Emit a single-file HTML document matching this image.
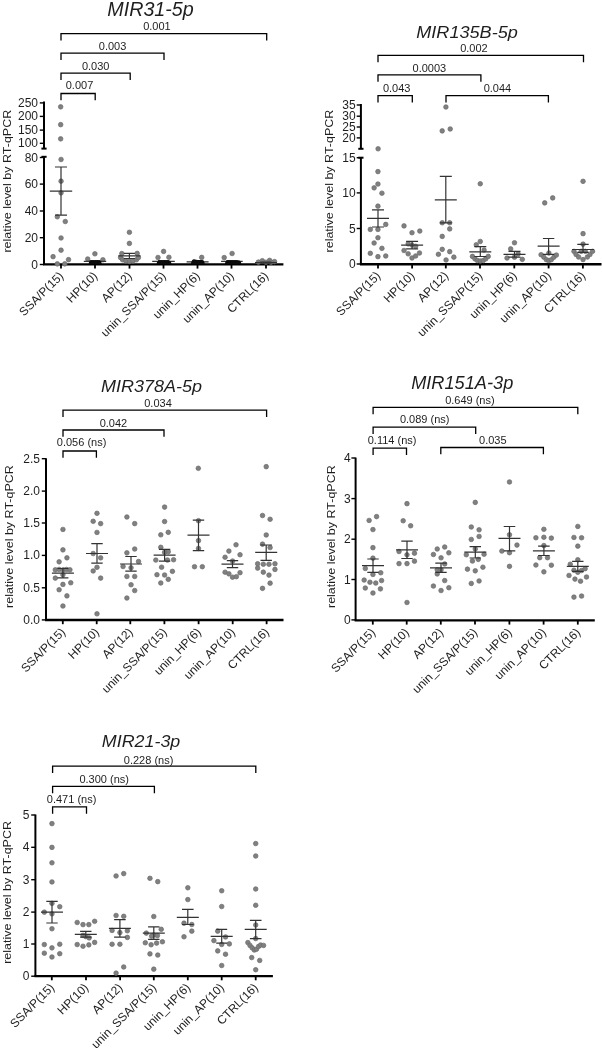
<!DOCTYPE html>
<html><head><meta charset="utf-8"><style>
html,body{margin:0;padding:0;background:#fff;}
svg{display:block;}
text{-webkit-font-smoothing:antialiased;}
svg{will-change:transform;}
text{font-family:"Liberation Sans", sans-serif;fill:#1e1e1e;}
circle{fill:#808080;stroke:#6c6c6c;stroke-width:0.7;}
path:not([fill]){fill:none;stroke:#333333;stroke-width:1.2;}
</style></head><body>
<svg width="602" height="1050" viewBox="0 0 602 1050">
<rect width="602" height="1050" fill="#fff"/>
<text x="0" y="0" font-size="19.7" text-anchor="middle" font-style="italic" transform="translate(150.55,15.9) scale(1,1)">MIR31-5p</text>
<text x="0" y="0" font-size="12.5" text-anchor="middle" transform="translate(10.7,181.2) rotate(-90) scale(1,0.88)">relative level by RT-qPCR</text>
<line x1="44" y1="101.5" x2="44" y2="148.6" stroke="#000" stroke-width="2.0"/>
<line x1="44" y1="156.8" x2="44" y2="264.4" stroke="#000" stroke-width="2.0"/>
<line x1="41.4" y1="148.6" x2="46.6" y2="148.6" stroke="#000" stroke-width="2"/>
<line x1="41.4" y1="156.8" x2="46.6" y2="156.8" stroke="#000" stroke-width="2"/>
<line x1="39.8" y1="102.9" x2="44" y2="102.9" stroke="#000" stroke-width="1.4"/>
<text x="38.00" y="106.90" font-size="12.0" text-anchor="end">250</text>
<line x1="39.8" y1="116.4" x2="44" y2="116.4" stroke="#000" stroke-width="1.4"/>
<text x="38.00" y="120.40" font-size="12.0" text-anchor="end">200</text>
<line x1="39.8" y1="130.1" x2="44" y2="130.1" stroke="#000" stroke-width="1.4"/>
<text x="38.00" y="134.10" font-size="12.0" text-anchor="end">150</text>
<line x1="39.8" y1="143.3" x2="44" y2="143.3" stroke="#000" stroke-width="1.4"/>
<text x="38.00" y="147.30" font-size="12.0" text-anchor="end">100</text>
<line x1="39.8" y1="157.5" x2="44" y2="157.5" stroke="#000" stroke-width="1.4"/>
<text x="38.00" y="161.50" font-size="12.0" text-anchor="end">80</text>
<line x1="39.8" y1="184.1" x2="44" y2="184.1" stroke="#000" stroke-width="1.4"/>
<text x="38.00" y="188.10" font-size="12.0" text-anchor="end">60</text>
<line x1="39.8" y1="211" x2="44" y2="211" stroke="#000" stroke-width="1.4"/>
<text x="38.00" y="215.00" font-size="12.0" text-anchor="end">40</text>
<line x1="39.8" y1="237.7" x2="44" y2="237.7" stroke="#000" stroke-width="1.4"/>
<text x="38.00" y="241.70" font-size="12.0" text-anchor="end">20</text>
<line x1="39.8" y1="264.5" x2="44" y2="264.5" stroke="#000" stroke-width="1.4"/>
<text x="38.00" y="268.50" font-size="12.0" text-anchor="end">0</text>
<line x1="43" y1="264.4" x2="283.4" y2="264.4" stroke="#000" stroke-width="2.4"/>
<line x1="61" y1="264.4" x2="61" y2="268.59999999999997" stroke="#000" stroke-width="1.8"/>
<text x="0" y="0" font-size="12.0" text-anchor="end" transform="translate(64.2,276.59999999999997) rotate(-45)">SSA/P(15)</text>
<line x1="95" y1="264.4" x2="95" y2="268.59999999999997" stroke="#000" stroke-width="1.8"/>
<text x="0" y="0" font-size="12.0" text-anchor="end" transform="translate(98.2,276.59999999999997) rotate(-45)">HP(10)</text>
<line x1="129.5" y1="264.4" x2="129.5" y2="268.59999999999997" stroke="#000" stroke-width="1.8"/>
<text x="0" y="0" font-size="12.0" text-anchor="end" transform="translate(132.7,276.59999999999997) rotate(-45)">AP(12)</text>
<line x1="163.5" y1="264.4" x2="163.5" y2="268.59999999999997" stroke="#000" stroke-width="1.8"/>
<text x="0" y="0" font-size="12.0" text-anchor="end" transform="translate(166.7,276.59999999999997) rotate(-45)">unin_SSA/P(15)</text>
<line x1="197.5" y1="264.4" x2="197.5" y2="268.59999999999997" stroke="#000" stroke-width="1.8"/>
<text x="0" y="0" font-size="12.0" text-anchor="end" transform="translate(200.7,276.59999999999997) rotate(-45)">unin_HP(6)</text>
<line x1="231.5" y1="264.4" x2="231.5" y2="268.59999999999997" stroke="#000" stroke-width="1.8"/>
<text x="0" y="0" font-size="12.0" text-anchor="end" transform="translate(234.7,276.59999999999997) rotate(-45)">unin_AP(10)</text>
<line x1="266" y1="264.4" x2="266" y2="268.59999999999997" stroke="#000" stroke-width="1.8"/>
<text x="0" y="0" font-size="12.0" text-anchor="end" transform="translate(269.2,276.59999999999997) rotate(-45)">CTRL(16)</text>
<path d="M61 100.3 V93.5 H95.2 V100.3" fill="none" stroke="#000" stroke-width="1.3"/>
<text x="79.50" y="89.10" font-size="11.0" text-anchor="middle">0.007</text>
<path d="M61 80.0 V73.2 H130.2 V80.0" fill="none" stroke="#000" stroke-width="1.3"/>
<text x="95.65" y="69.80" font-size="11.0" text-anchor="middle">0.030</text>
<path d="M61 59.9 V53.1 H164 V59.9" fill="none" stroke="#000" stroke-width="1.3"/>
<text x="112.60" y="50.00" font-size="11.0" text-anchor="middle">0.003</text>
<path d="M61 40.4 V33.6 H266.7 V40.4" fill="none" stroke="#000" stroke-width="1.3"/>
<text x="156.90" y="30.20" font-size="11.0" text-anchor="middle">0.001</text>
<circle cx="61.05" cy="159.47" r="2.3"/>
<circle cx="61.05" cy="181.15" r="2.3"/>
<circle cx="61.05" cy="192.86" r="2.3"/>
<circle cx="57.31" cy="216.78" r="2.3"/>
<circle cx="65.29" cy="221.52" r="2.3"/>
<circle cx="61.05" cy="237.96" r="2.3"/>
<circle cx="61.05" cy="250.17" r="2.3"/>
<circle cx="53.08" cy="256.65" r="2.3"/>
<circle cx="68.53" cy="259.64" r="2.3"/>
<circle cx="57.31" cy="263.88" r="2.3"/>
<circle cx="64.79" cy="263.88" r="2.3"/>
<circle cx="60.67" cy="106.84" r="2.3"/>
<circle cx="60.67" cy="124.65" r="2.3"/>
<circle cx="60.67" cy="138.85" r="2.3"/>
<circle cx="94.9" cy="253.8" r="2.3"/>
<circle cx="87.7" cy="259.0" r="2.3"/>
<circle cx="102.9" cy="259.8" r="2.3"/>
<circle cx="129.4" cy="232.3" r="2.3"/>
<circle cx="129.4" cy="243.4" r="2.3"/>
<circle cx="121.8" cy="253.6" r="2.3"/>
<circle cx="137.2" cy="253.4" r="2.3"/>
<circle cx="120.6" cy="257.6" r="2.3"/>
<circle cx="122.6" cy="259.8" r="2.3"/>
<circle cx="125.8" cy="261.0" r="2.3"/>
<circle cx="129.4" cy="261.4" r="2.3"/>
<circle cx="133.0" cy="261.0" r="2.3"/>
<circle cx="136.4" cy="259.8" r="2.3"/>
<circle cx="138.4" cy="257.6" r="2.3"/>
<circle cx="163.6" cy="251.4" r="2.3"/>
<circle cx="158.0" cy="257.5" r="2.3"/>
<circle cx="168.9" cy="257.3" r="2.3"/>
<circle cx="201.7" cy="257.4" r="2.3"/>
<circle cx="224.2" cy="257.6" r="2.3"/>
<circle cx="232.1" cy="253.5" r="2.3"/>
<circle cx="258.4" cy="262.1" r="2.3"/>
<circle cx="262.3" cy="260.7" r="2.3"/>
<circle cx="269.6" cy="260.4" r="2.3"/>
<circle cx="274.5" cy="261.6" r="2.3"/>
<circle cx="266" cy="262.2" r="2.3"/>
<circle cx="271" cy="262.2" r="2.3"/>
<path d="M49.8 191.2H72.2M61 167V215.1M55 167H67M55 215.1H67" />
<path d="M83.8 261.3H106.2M95 260.5V262.3M89.5 260.5H100.5M89.5 262.3H100.5" />
<path d="M118.2 255.9H140.6M129.4 253.4V258.5M123.9 253.4H134.9M123.9 258.5H134.9" />
<path d="M152.2 261.4H174.8M163.5 260.5V262.5M158.0 260.5H169.0M158.0 262.5H169.0" />
<path d="M186.6 261.9H208.6M197.6 261V263M192.1 261H203.1M192.1 263H203.1" />
<path d="M221.1 261.4H242.70000000000002M231.9 260.5V262.5M226.4 260.5H237.4M226.4 262.5H237.4" />
<path d="M255 262.7H277M266 262V263.2M260.5 262H271.5M260.5 263.2H271.5" />
<path d="M88.6 264 C89 261 90 260.3 92 260.2 L98.5 260.2 C100.5 260.3 101.5 261 101.8 264 Z" fill="#0a0a0a" stroke="none"/>
<path d="M156.6 264 C157 261 158 260.4 160 260.3 L168 260.3 C170 260.4 171 261 171.5 264 Z" fill="#0a0a0a" stroke="none"/>
<path d="M190.8 264 C191.2 261 192.5 259.2 194 259.2 C195.5 259.6 197 259.9 199 259.9 L202 259.9 C203.8 260.2 204.5 261 204.8 264 Z" fill="#0a0a0a" stroke="none"/>
<path d="M224.9 264 C225.2 261 226 260.3 228 260.2 L238 260.2 C240 260.3 241 261 241.4 264 Z" fill="#0a0a0a" stroke="none"/>
<text x="0" y="0" font-size="18.1" text-anchor="middle" font-style="italic" transform="translate(467.05,37.6) scale(1,0.96)">MIR135B-5p</text>
<text x="0" y="0" font-size="12.5" text-anchor="middle" transform="translate(332.9,181.1) rotate(-90) scale(1,0.88)">relative level by RT-qPCR</text>
<line x1="360.9" y1="104.0" x2="360.9" y2="148.8" stroke="#000" stroke-width="2.0"/>
<line x1="360.9" y1="157.7" x2="360.9" y2="264.2" stroke="#000" stroke-width="2.0"/>
<line x1="358.29999999999995" y1="148.8" x2="363.5" y2="148.8" stroke="#000" stroke-width="2"/>
<line x1="358.29999999999995" y1="157.7" x2="363.5" y2="157.7" stroke="#000" stroke-width="2"/>
<line x1="356.7" y1="105.0" x2="360.9" y2="105.0" stroke="#000" stroke-width="1.4"/>
<text x="355.60" y="109.00" font-size="12.0" text-anchor="end">35</text>
<line x1="356.7" y1="116.2" x2="360.9" y2="116.2" stroke="#000" stroke-width="1.4"/>
<text x="355.60" y="120.20" font-size="12.0" text-anchor="end">30</text>
<line x1="356.7" y1="127.0" x2="360.9" y2="127.0" stroke="#000" stroke-width="1.4"/>
<text x="355.60" y="131.00" font-size="12.0" text-anchor="end">25</text>
<line x1="356.7" y1="137.9" x2="360.9" y2="137.9" stroke="#000" stroke-width="1.4"/>
<text x="355.60" y="141.90" font-size="12.0" text-anchor="end">20</text>
<line x1="356.7" y1="157.7" x2="360.9" y2="157.7" stroke="#000" stroke-width="1.4"/>
<text x="355.60" y="161.70" font-size="12.0" text-anchor="end">15</text>
<line x1="356.7" y1="192.9" x2="360.9" y2="192.9" stroke="#000" stroke-width="1.4"/>
<text x="355.60" y="196.90" font-size="12.0" text-anchor="end">10</text>
<line x1="356.7" y1="228.5" x2="360.9" y2="228.5" stroke="#000" stroke-width="1.4"/>
<text x="355.60" y="232.50" font-size="12.0" text-anchor="end">5</text>
<line x1="356.7" y1="264" x2="360.9" y2="264" stroke="#000" stroke-width="1.4"/>
<text x="355.60" y="268.00" font-size="12.0" text-anchor="end">0</text>
<line x1="359.9" y1="264.2" x2="601.5" y2="264.2" stroke="#000" stroke-width="2.4"/>
<line x1="378" y1="264.2" x2="378" y2="268.4" stroke="#000" stroke-width="1.8"/>
<text x="0" y="0" font-size="12.0" text-anchor="end" transform="translate(381.2,276.4) rotate(-45)">SSA/P(15)</text>
<line x1="412.1" y1="264.2" x2="412.1" y2="268.4" stroke="#000" stroke-width="1.8"/>
<text x="0" y="0" font-size="12.0" text-anchor="end" transform="translate(415.3,276.4) rotate(-45)">HP(10)</text>
<line x1="445.8" y1="264.2" x2="445.8" y2="268.4" stroke="#000" stroke-width="1.8"/>
<text x="0" y="0" font-size="12.0" text-anchor="end" transform="translate(449.0,276.4) rotate(-45)">AP(12)</text>
<line x1="480" y1="264.2" x2="480" y2="268.4" stroke="#000" stroke-width="1.8"/>
<text x="0" y="0" font-size="12.0" text-anchor="end" transform="translate(483.2,276.4) rotate(-45)">unin_SSA/P(15)</text>
<line x1="514.3" y1="264.2" x2="514.3" y2="268.4" stroke="#000" stroke-width="1.8"/>
<text x="0" y="0" font-size="12.0" text-anchor="end" transform="translate(517.5,276.4) rotate(-45)">unin_HP(6)</text>
<line x1="548.6" y1="264.2" x2="548.6" y2="268.4" stroke="#000" stroke-width="1.8"/>
<text x="0" y="0" font-size="12.0" text-anchor="end" transform="translate(551.8000000000001,276.4) rotate(-45)">unin_AP(10)</text>
<line x1="582.9" y1="264.2" x2="582.9" y2="268.4" stroke="#000" stroke-width="1.8"/>
<text x="0" y="0" font-size="12.0" text-anchor="end" transform="translate(586.1,276.4) rotate(-45)">CTRL(16)</text>
<path d="M378 102.39999999999999 V95.6 H412.3 V102.39999999999999" fill="none" stroke="#000" stroke-width="1.3"/>
<text x="396.70" y="91.60" font-size="11.0" text-anchor="middle">0.043</text>
<path d="M446 102.39999999999999 V95.6 H548.4 V102.39999999999999" fill="none" stroke="#000" stroke-width="1.3"/>
<text x="497.40" y="92.10" font-size="11.0" text-anchor="middle">0.044</text>
<path d="M378 81.7 V74.9 H480.9 V81.7" fill="none" stroke="#000" stroke-width="1.3"/>
<text x="429.40" y="71.50" font-size="11.0" text-anchor="middle">0.0003</text>
<path d="M378 62.199999999999996 V55.4 H583.5 V62.199999999999996" fill="none" stroke="#000" stroke-width="1.3"/>
<text x="473.90" y="51.90" font-size="11.0" text-anchor="middle">0.002</text>
<circle cx="377.94" cy="171.59" r="2.3"/>
<circle cx="377.94" cy="184.05" r="2.3"/>
<circle cx="374.12" cy="187.87" r="2.3"/>
<circle cx="381.93" cy="193.19" r="2.3"/>
<circle cx="377.94" cy="206.15" r="2.3"/>
<circle cx="385.75" cy="224.42" r="2.3"/>
<circle cx="370.3" cy="229.4" r="2.3"/>
<circle cx="377.94" cy="229.4" r="2.3"/>
<circle cx="377.94" cy="237.71" r="2.3"/>
<circle cx="374.12" cy="243.02" r="2.3"/>
<circle cx="381.93" cy="248.34" r="2.3"/>
<circle cx="370.3" cy="253.32" r="2.3"/>
<circle cx="377.94" cy="256.64" r="2.3"/>
<circle cx="385.75" cy="255.98" r="2.3"/>
<circle cx="378.1" cy="148.8" r="2.3"/>
<circle cx="404.02" cy="225.91" r="2.3"/>
<circle cx="411.99" cy="232.72" r="2.3"/>
<circle cx="419.8" cy="231.06" r="2.3"/>
<circle cx="408.17" cy="243.85" r="2.3"/>
<circle cx="411.99" cy="245.02" r="2.3"/>
<circle cx="415.65" cy="246.35" r="2.3"/>
<circle cx="404.02" cy="250.5" r="2.3"/>
<circle cx="408.17" cy="253.82" r="2.3"/>
<circle cx="411.99" cy="257.97" r="2.3"/>
<circle cx="415.65" cy="255.98" r="2.3"/>
<circle cx="419.47" cy="252.99" r="2.3"/>
<circle cx="442.23" cy="222.76" r="2.3"/>
<circle cx="449.7" cy="222.76" r="2.3"/>
<circle cx="449.7" cy="228.9" r="2.3"/>
<circle cx="442.23" cy="236.38" r="2.3"/>
<circle cx="442.23" cy="249.34" r="2.3"/>
<circle cx="449.7" cy="251.66" r="2.3"/>
<circle cx="438.41" cy="254.32" r="2.3"/>
<circle cx="453.85" cy="257.14" r="2.3"/>
<circle cx="446.05" cy="259.97" r="2.3"/>
<circle cx="445.9" cy="107" r="2.3"/>
<circle cx="442.2" cy="130.9" r="2.3"/>
<circle cx="450.2" cy="129" r="2.3"/>
<circle cx="480.27" cy="183.79" r="2.3"/>
<circle cx="480.27" cy="241.43" r="2.3"/>
<circle cx="476.28" cy="244.75" r="2.3"/>
<circle cx="484.09" cy="250.07" r="2.3"/>
<circle cx="472.46" cy="256.38" r="2.3"/>
<circle cx="474.95" cy="258.87" r="2.3"/>
<circle cx="477.44" cy="260.53" r="2.3"/>
<circle cx="480.27" cy="261.03" r="2.3"/>
<circle cx="483.26" cy="260.53" r="2.3"/>
<circle cx="485.75" cy="258.87" r="2.3"/>
<circle cx="488.24" cy="256.38" r="2.3"/>
<circle cx="514.49" cy="242.76" r="2.3"/>
<circle cx="510.66" cy="248.9" r="2.3"/>
<circle cx="518.14" cy="253.89" r="2.3"/>
<circle cx="507.01" cy="258.04" r="2.3"/>
<circle cx="522.29" cy="259.37" r="2.3"/>
<circle cx="514.49" cy="257.21" r="2.3"/>
<circle cx="544.72" cy="202.89" r="2.3"/>
<circle cx="552.69" cy="197.91" r="2.3"/>
<circle cx="541.06" cy="254.72" r="2.3"/>
<circle cx="543.89" cy="257.21" r="2.3"/>
<circle cx="546.38" cy="259.7" r="2.3"/>
<circle cx="548.87" cy="260.53" r="2.3"/>
<circle cx="551.36" cy="259.7" r="2.3"/>
<circle cx="553.85" cy="257.21" r="2.3"/>
<circle cx="556.35" cy="255.05" r="2.3"/>
<circle cx="548.87" cy="253.06" r="2.3"/>
<circle cx="583.05" cy="181.33" r="2.3"/>
<circle cx="583.05" cy="233.65" r="2.3"/>
<circle cx="583.05" cy="244.15" r="2.3"/>
<circle cx="573.99" cy="251.36" r="2.3"/>
<circle cx="576.05" cy="254.45" r="2.3"/>
<circle cx="578.62" cy="257.02" r="2.3"/>
<circle cx="583.05" cy="259.6" r="2.3"/>
<circle cx="587.37" cy="257.02" r="2.3"/>
<circle cx="589.95" cy="254.45" r="2.3"/>
<circle cx="592.52" cy="251.36" r="2.3"/>
<circle cx="581.19" cy="251.36" r="2.3"/>
<circle cx="585.31" cy="251.36" r="2.3"/>
<path d="M367 218.4H389M378 209.8V227M372 209.8H384M372 227H384" />
<path d="M401.1 245.2H423.1M412.1 241.4V248.8M406.1 241.4H418.1M406.1 248.8H418.1" />
<path d="M434.8 199.8H456.8M445.8 176.3V222.8M439.8 176.3H451.8M439.8 222.8H451.8" />
<path d="M469.3 251.9H491.3M480.3 246.7V256.5M474.3 246.7H486.3M474.3 256.5H486.3" />
<path d="M503.5 254.4H525.5M514.5 251.4V257.2M508.5 251.4H520.5M508.5 257.2H520.5" />
<path d="M537.6 246.2H559.6M548.6 238.5V254.3M542.9 238.5H554.3000000000001M542.9 254.3H554.3000000000001" />
<path d="M572 249.5H594M583 244.4V252.4M577.3 244.4H588.7M577.3 252.4H588.7" />
<text x="0" y="0" font-size="18.0" text-anchor="middle" font-style="italic" transform="translate(151.6,391.6) scale(1,0.93)">MIR378A-5p</text>
<text x="0" y="0" font-size="12.5" text-anchor="middle" transform="translate(13.0,536.6) rotate(-90) scale(1,0.88)">relative level by RT-qPCR</text>
<line x1="46.0" y1="458.2" x2="46.0" y2="620.0" stroke="#000" stroke-width="2.0"/>
<line x1="41.8" y1="458.7" x2="46.0" y2="458.7" stroke="#000" stroke-width="1.4"/>
<text x="40.00" y="462.70" font-size="12.0" text-anchor="end">2.5</text>
<line x1="41.8" y1="491.1" x2="46.0" y2="491.1" stroke="#000" stroke-width="1.4"/>
<text x="40.00" y="495.10" font-size="12.0" text-anchor="end">2.0</text>
<line x1="41.8" y1="523" x2="46.0" y2="523" stroke="#000" stroke-width="1.4"/>
<text x="40.00" y="527.00" font-size="12.0" text-anchor="end">1.5</text>
<line x1="41.8" y1="555.4" x2="46.0" y2="555.4" stroke="#000" stroke-width="1.4"/>
<text x="40.00" y="559.40" font-size="12.0" text-anchor="end">1.0</text>
<line x1="41.8" y1="587.8" x2="46.0" y2="587.8" stroke="#000" stroke-width="1.4"/>
<text x="40.00" y="591.80" font-size="12.0" text-anchor="end">0.5</text>
<line x1="41.8" y1="619.9" x2="46.0" y2="619.9" stroke="#000" stroke-width="1.4"/>
<text x="40.00" y="623.90" font-size="12.0" text-anchor="end">0.0</text>
<line x1="45.0" y1="620.0" x2="283.5" y2="620.0" stroke="#000" stroke-width="2.4"/>
<line x1="62.8" y1="620.0" x2="62.8" y2="624.2" stroke="#000" stroke-width="1.8"/>
<text x="0" y="0" font-size="12.0" text-anchor="end" transform="translate(66.0,632.8000000000001) rotate(-45)">SSA/P(15)</text>
<line x1="96.7" y1="620.0" x2="96.7" y2="624.2" stroke="#000" stroke-width="1.8"/>
<text x="0" y="0" font-size="12.0" text-anchor="end" transform="translate(99.9,632.8000000000001) rotate(-45)">HP(10)</text>
<line x1="130.3" y1="620.0" x2="130.3" y2="624.2" stroke="#000" stroke-width="1.8"/>
<text x="0" y="0" font-size="12.0" text-anchor="end" transform="translate(133.5,632.8000000000001) rotate(-45)">AP(12)</text>
<line x1="164.4" y1="620.0" x2="164.4" y2="624.2" stroke="#000" stroke-width="1.8"/>
<text x="0" y="0" font-size="12.0" text-anchor="end" transform="translate(167.6,632.8000000000001) rotate(-45)">unin_SSA/P(15)</text>
<line x1="198.6" y1="620.0" x2="198.6" y2="624.2" stroke="#000" stroke-width="1.8"/>
<text x="0" y="0" font-size="12.0" text-anchor="end" transform="translate(201.79999999999998,632.8000000000001) rotate(-45)">unin_HP(6)</text>
<line x1="232.7" y1="620.0" x2="232.7" y2="624.2" stroke="#000" stroke-width="1.8"/>
<text x="0" y="0" font-size="12.0" text-anchor="end" transform="translate(235.89999999999998,632.8000000000001) rotate(-45)">unin_AP(10)</text>
<line x1="266.6" y1="620.0" x2="266.6" y2="624.2" stroke="#000" stroke-width="1.8"/>
<text x="0" y="0" font-size="12.0" text-anchor="end" transform="translate(269.8,632.8000000000001) rotate(-45)">CTRL(16)</text>
<path d="M63 457.8 V451.0 H96.4 V457.8" fill="none" stroke="#000" stroke-width="1.3"/>
<text x="81.60" y="446.30" font-size="11.0" text-anchor="middle">0.056 (ns)</text>
<path d="M63 436.8 V430.0 H164 V436.8" fill="none" stroke="#000" stroke-width="1.3"/>
<text x="113.40" y="426.60" font-size="11.0" text-anchor="middle">0.042</text>
<path d="M63 416.90000000000003 V410.1 H266.6 V416.90000000000003" fill="none" stroke="#000" stroke-width="1.3"/>
<text x="158.00" y="406.80" font-size="11.0" text-anchor="middle">0.034</text>
<circle cx="62.94" cy="529.44" r="2.3"/>
<circle cx="62.94" cy="549.87" r="2.3"/>
<circle cx="66.93" cy="557.84" r="2.3"/>
<circle cx="59.12" cy="561.83" r="2.3"/>
<circle cx="55.3" cy="569.8" r="2.3"/>
<circle cx="59.12" cy="569.47" r="2.3"/>
<circle cx="63.27" cy="569.8" r="2.3"/>
<circle cx="66.59" cy="569.47" r="2.3"/>
<circle cx="69.92" cy="569.8" r="2.3"/>
<circle cx="62.94" cy="574.78" r="2.3"/>
<circle cx="55.3" cy="578.11" r="2.3"/>
<circle cx="62.94" cy="584.42" r="2.3"/>
<circle cx="70.75" cy="582.76" r="2.3"/>
<circle cx="59.12" cy="589.73" r="2.3"/>
<circle cx="66.93" cy="595.88" r="2.3"/>
<circle cx="62.94" cy="606.01" r="2.3"/>
<circle cx="96.99" cy="513.32" r="2.3"/>
<circle cx="93.17" cy="521.3" r="2.3"/>
<circle cx="100.65" cy="523.62" r="2.3"/>
<circle cx="96.99" cy="532.43" r="2.3"/>
<circle cx="93.17" cy="553.52" r="2.3"/>
<circle cx="100.65" cy="557.84" r="2.3"/>
<circle cx="96.99" cy="567.31" r="2.3"/>
<circle cx="93.17" cy="570.96" r="2.3"/>
<circle cx="100.65" cy="578.11" r="2.3"/>
<circle cx="96.99" cy="613.82" r="2.3"/>
<circle cx="126.89" cy="516.98" r="2.3"/>
<circle cx="134.7" cy="523.62" r="2.3"/>
<circle cx="134.7" cy="549.04" r="2.3"/>
<circle cx="126.89" cy="552.86" r="2.3"/>
<circle cx="138.52" cy="561.5" r="2.3"/>
<circle cx="123.07" cy="566.48" r="2.3"/>
<circle cx="131.05" cy="567.81" r="2.3"/>
<circle cx="126.89" cy="576.45" r="2.3"/>
<circle cx="134.7" cy="576.45" r="2.3"/>
<circle cx="131.05" cy="584.75" r="2.3"/>
<circle cx="134.7" cy="590.56" r="2.3"/>
<circle cx="126.89" cy="598.04" r="2.3"/>
<circle cx="164.6" cy="507.08" r="2.3"/>
<circle cx="164.6" cy="521.53" r="2.3"/>
<circle cx="160.78" cy="534.82" r="2.3"/>
<circle cx="168.26" cy="532.33" r="2.3"/>
<circle cx="160.78" cy="547.28" r="2.3"/>
<circle cx="168.26" cy="551.76" r="2.3"/>
<circle cx="164.6" cy="552.26" r="2.3"/>
<circle cx="155.8" cy="560.07" r="2.3"/>
<circle cx="167.43" cy="560.07" r="2.3"/>
<circle cx="173.57" cy="559.73" r="2.3"/>
<circle cx="161.61" cy="567.21" r="2.3"/>
<circle cx="172.41" cy="571.36" r="2.3"/>
<circle cx="156.96" cy="574.68" r="2.3"/>
<circle cx="164.6" cy="575.02" r="2.3"/>
<circle cx="168.26" cy="579.34" r="2.3"/>
<circle cx="160.78" cy="582.99" r="2.3"/>
<circle cx="198.49" cy="520.7" r="2.3"/>
<circle cx="198.49" cy="540.63" r="2.3"/>
<circle cx="198.49" cy="548.44" r="2.3"/>
<circle cx="194.5" cy="566.71" r="2.3"/>
<circle cx="202.31" cy="566.71" r="2.3"/>
<circle cx="198.3" cy="468.3" r="2.3"/>
<circle cx="236.03" cy="544.78" r="2.3"/>
<circle cx="228.89" cy="551.1" r="2.3"/>
<circle cx="240.02" cy="554.75" r="2.3"/>
<circle cx="225.07" cy="557.24" r="2.3"/>
<circle cx="232.54" cy="561.06" r="2.3"/>
<circle cx="225.07" cy="572.19" r="2.3"/>
<circle cx="228.89" cy="573.85" r="2.3"/>
<circle cx="232.54" cy="577.18" r="2.3"/>
<circle cx="236.36" cy="576.68" r="2.3"/>
<circle cx="240.02" cy="572.69" r="2.3"/>
<circle cx="266.23" cy="466.67" r="2.3"/>
<circle cx="262.51" cy="515.53" r="2.3"/>
<circle cx="270.11" cy="519.26" r="2.3"/>
<circle cx="266.23" cy="534.95" r="2.3"/>
<circle cx="262.51" cy="544.17" r="2.3"/>
<circle cx="270.11" cy="547.57" r="2.3"/>
<circle cx="257.65" cy="563.75" r="2.3"/>
<circle cx="263.32" cy="564.24" r="2.3"/>
<circle cx="268.98" cy="564.24" r="2.3"/>
<circle cx="274.97" cy="563.75" r="2.3"/>
<circle cx="257.65" cy="568.12" r="2.3"/>
<circle cx="274.97" cy="569.42" r="2.3"/>
<circle cx="263.32" cy="572.17" r="2.3"/>
<circle cx="268.98" cy="575.08" r="2.3"/>
<circle cx="270.11" cy="583.17" r="2.3"/>
<circle cx="262.51" cy="588.35" r="2.3"/>
<path d="M51.9 573.1H73.9M62.9 568.5V577.8M57.4 568.5H68.4M57.4 577.8H68.4" />
<path d="M86 553.5H108M97 543.6V563.2M91.3 543.6H102.7M91.3 563.2H102.7" />
<path d="M120 564H142M131 556.5V571.1M125.3 556.5H136.7M125.3 571.1H136.7" />
<path d="M153.6 555.2H175.6M164.6 549.4V561.1M158.9 549.4H170.29999999999998M158.9 561.1H170.29999999999998" />
<path d="M187.5 535.1H209.5M198.5 520.2V550.6M192.8 520.2H204.2M192.8 550.6H204.2" />
<path d="M221.5 564.2H243.5M232.5 560.6V567.7M226.8 560.6H238.2M226.8 567.7H238.2" />
<path d="M255.2 552.4H277.2M266.2 545V560.4M260.5 545H271.9M260.5 560.4H271.9" />
<text x="0" y="0" font-size="18.2" text-anchor="middle" font-style="italic" transform="translate(462.2,388.8) scale(1,0.96)">MIR151A-3p</text>
<text x="0" y="0" font-size="12.5" text-anchor="middle" transform="translate(334.9,536.65) rotate(-90) scale(1,0.88)">relative level by RT-qPCR</text>
<line x1="355.6" y1="457.6" x2="355.6" y2="620.4" stroke="#000" stroke-width="2.0"/>
<line x1="351.40000000000003" y1="458" x2="355.6" y2="458" stroke="#000" stroke-width="1.4"/>
<text x="350.60" y="462.00" font-size="12.0" text-anchor="end">4</text>
<line x1="351.40000000000003" y1="498.6" x2="355.6" y2="498.6" stroke="#000" stroke-width="1.4"/>
<text x="350.60" y="502.60" font-size="12.0" text-anchor="end">3</text>
<line x1="351.40000000000003" y1="539.2" x2="355.6" y2="539.2" stroke="#000" stroke-width="1.4"/>
<text x="350.60" y="543.20" font-size="12.0" text-anchor="end">2</text>
<line x1="351.40000000000003" y1="579.5" x2="355.6" y2="579.5" stroke="#000" stroke-width="1.4"/>
<text x="350.60" y="583.50" font-size="12.0" text-anchor="end">1</text>
<line x1="351.40000000000003" y1="619.9" x2="355.6" y2="619.9" stroke="#000" stroke-width="1.4"/>
<text x="350.60" y="623.90" font-size="12.0" text-anchor="end">0</text>
<line x1="354.6" y1="620.4" x2="594.8" y2="620.4" stroke="#000" stroke-width="2.4"/>
<line x1="372.8" y1="620.4" x2="372.8" y2="624.6" stroke="#000" stroke-width="1.8"/>
<text x="0" y="0" font-size="12.0" text-anchor="end" transform="translate(376.0,633.1) rotate(-45)">SSA/P(15)</text>
<line x1="406.7" y1="620.4" x2="406.7" y2="624.6" stroke="#000" stroke-width="1.8"/>
<text x="0" y="0" font-size="12.0" text-anchor="end" transform="translate(409.9,633.1) rotate(-45)">HP(10)</text>
<line x1="440.8" y1="620.4" x2="440.8" y2="624.6" stroke="#000" stroke-width="1.8"/>
<text x="0" y="0" font-size="12.0" text-anchor="end" transform="translate(444.0,633.1) rotate(-45)">AP(12)</text>
<line x1="475" y1="620.4" x2="475" y2="624.6" stroke="#000" stroke-width="1.8"/>
<text x="0" y="0" font-size="12.0" text-anchor="end" transform="translate(478.2,633.1) rotate(-45)">unin_SSA/P(15)</text>
<line x1="509.4" y1="620.4" x2="509.4" y2="624.6" stroke="#000" stroke-width="1.8"/>
<text x="0" y="0" font-size="12.0" text-anchor="end" transform="translate(512.6,633.1) rotate(-45)">unin_HP(6)</text>
<line x1="543.6" y1="620.4" x2="543.6" y2="624.6" stroke="#000" stroke-width="1.8"/>
<text x="0" y="0" font-size="12.0" text-anchor="end" transform="translate(546.8000000000001,633.1) rotate(-45)">unin_AP(10)</text>
<line x1="577.8" y1="620.4" x2="577.8" y2="624.6" stroke="#000" stroke-width="1.8"/>
<text x="0" y="0" font-size="12.0" text-anchor="end" transform="translate(581.0,633.1) rotate(-45)">CTRL(16)</text>
<path d="M373.1 455.0 V448.2 H406.5 V455.0" fill="none" stroke="#000" stroke-width="1.3"/>
<text x="392.10" y="443.70" font-size="11.0" text-anchor="middle">0.114 (ns)</text>
<path d="M440.8 454.3 V447.5 H543.4 V454.3" fill="none" stroke="#000" stroke-width="1.3"/>
<text x="492.80" y="443.60" font-size="11.0" text-anchor="middle">0.035</text>
<path d="M373.1 434.0 V427.2 H475.7 V434.0" fill="none" stroke="#000" stroke-width="1.3"/>
<text x="424.70" y="423.10" font-size="11.0" text-anchor="middle">0.089 (ns)</text>
<path d="M373.1 414.2 V407.4 H577.8 V414.2" fill="none" stroke="#000" stroke-width="1.3"/>
<text x="469.90" y="403.70" font-size="11.0" text-anchor="middle">0.649 (ns)</text>
<circle cx="369.12" cy="520.43" r="2.3"/>
<circle cx="376.59" cy="516.61" r="2.3"/>
<circle cx="372.94" cy="529.57" r="2.3"/>
<circle cx="372.94" cy="547.67" r="2.3"/>
<circle cx="372.94" cy="558.14" r="2.3"/>
<circle cx="365.3" cy="568.44" r="2.3"/>
<circle cx="372.94" cy="574.42" r="2.3"/>
<circle cx="380.75" cy="572.76" r="2.3"/>
<circle cx="364.14" cy="580.07" r="2.3"/>
<circle cx="369.95" cy="582.23" r="2.3"/>
<circle cx="375.76" cy="583.06" r="2.3"/>
<circle cx="381.58" cy="580.56" r="2.3"/>
<circle cx="365.3" cy="588.04" r="2.3"/>
<circle cx="380.42" cy="588.87" r="2.3"/>
<circle cx="372.94" cy="593.02" r="2.3"/>
<circle cx="406.99" cy="503.65" r="2.3"/>
<circle cx="403.17" cy="520.76" r="2.3"/>
<circle cx="410.65" cy="525.75" r="2.3"/>
<circle cx="399.02" cy="551.5" r="2.3"/>
<circle cx="406.99" cy="554.82" r="2.3"/>
<circle cx="414.47" cy="553.16" r="2.3"/>
<circle cx="399.02" cy="563.62" r="2.3"/>
<circle cx="406.99" cy="563.62" r="2.3"/>
<circle cx="414.47" cy="561.13" r="2.3"/>
<circle cx="406.99" cy="602.49" r="2.3"/>
<circle cx="437.23" cy="549.0" r="2.3"/>
<circle cx="444.7" cy="547.01" r="2.3"/>
<circle cx="433.41" cy="554.49" r="2.3"/>
<circle cx="448.85" cy="552.82" r="2.3"/>
<circle cx="441.05" cy="557.81" r="2.3"/>
<circle cx="444.7" cy="563.95" r="2.3"/>
<circle cx="437.23" cy="569.77" r="2.3"/>
<circle cx="441.05" cy="569.77" r="2.3"/>
<circle cx="437.23" cy="573.92" r="2.3"/>
<circle cx="444.7" cy="580.56" r="2.3"/>
<circle cx="433.41" cy="586.05" r="2.3"/>
<circle cx="441.05" cy="590.53" r="2.3"/>
<circle cx="448.85" cy="587.71" r="2.3"/>
<circle cx="475.27" cy="502.39" r="2.3"/>
<circle cx="471.28" cy="526.98" r="2.3"/>
<circle cx="479.09" cy="529.8" r="2.3"/>
<circle cx="471.28" cy="539.44" r="2.3"/>
<circle cx="479.09" cy="536.45" r="2.3"/>
<circle cx="475.27" cy="548.9" r="2.3"/>
<circle cx="466.3" cy="554.72" r="2.3"/>
<circle cx="484.07" cy="554.22" r="2.3"/>
<circle cx="472.44" cy="561.03" r="2.3"/>
<circle cx="478.26" cy="559.37" r="2.3"/>
<circle cx="467.46" cy="569.17" r="2.3"/>
<circle cx="475.27" cy="570.83" r="2.3"/>
<circle cx="482.91" cy="567.18" r="2.3"/>
<circle cx="471.28" cy="583.46" r="2.3"/>
<circle cx="479.09" cy="580.96" r="2.3"/>
<circle cx="509.49" cy="481.96" r="2.3"/>
<circle cx="509.49" cy="534.78" r="2.3"/>
<circle cx="516.96" cy="545.08" r="2.3"/>
<circle cx="501.84" cy="551.06" r="2.3"/>
<circle cx="509.49" cy="552.72" r="2.3"/>
<circle cx="509.49" cy="566.35" r="2.3"/>
<circle cx="543.87" cy="529.3" r="2.3"/>
<circle cx="535.9" cy="537.77" r="2.3"/>
<circle cx="543.87" cy="537.28" r="2.3"/>
<circle cx="551.35" cy="538.11" r="2.3"/>
<circle cx="543.87" cy="545.58" r="2.3"/>
<circle cx="539.72" cy="557.71" r="2.3"/>
<circle cx="547.52" cy="557.71" r="2.3"/>
<circle cx="535.9" cy="565.02" r="2.3"/>
<circle cx="551.35" cy="565.18" r="2.3"/>
<circle cx="543.87" cy="571.83" r="2.3"/>
<circle cx="577.81" cy="526.44" r="2.3"/>
<circle cx="573.94" cy="537.43" r="2.3"/>
<circle cx="581.58" cy="537.75" r="2.3"/>
<circle cx="577.81" cy="546.13" r="2.3"/>
<circle cx="577.81" cy="559.74" r="2.3"/>
<circle cx="570.27" cy="564.24" r="2.3"/>
<circle cx="573.94" cy="570.21" r="2.3"/>
<circle cx="577.81" cy="572.3" r="2.3"/>
<circle cx="581.58" cy="570.52" r="2.3"/>
<circle cx="585.14" cy="568.64" r="2.3"/>
<circle cx="569.02" cy="575.45" r="2.3"/>
<circle cx="574.98" cy="579.11" r="2.3"/>
<circle cx="580.53" cy="581.2" r="2.3"/>
<circle cx="586.5" cy="577.02" r="2.3"/>
<circle cx="573.94" cy="597.12" r="2.3"/>
<circle cx="581.58" cy="596.07" r="2.3"/>
<path d="M362 565.6H384M373 559V572.3M367.3 559H378.7M367.3 572.3H378.7" />
<path d="M396 549.8H418M407 541.2V558.5M401.3 541.2H412.7M401.3 558.5H412.7" />
<path d="M430 567.8H452M441 563.1V572.3M435.3 563.1H446.7M435.3 572.3H446.7" />
<path d="M464.3 552.2H486.3M475.3 546.7V558M469.6 546.7H481.0M469.6 558H481.0" />
<path d="M498.5 538.4H520.5M509.5 526.5V550.9M503.7 526.5H515.3M503.7 550.9H515.3" />
<path d="M532.9 550.9H554.9M543.9 546.1V555.5M538.1 546.1H549.6999999999999M538.1 555.5H549.6999999999999" />
<path d="M566.8 566.3H588.8M577.8 561.3V571.3M572.0999999999999 561.3H583.5M572.0999999999999 571.3H583.5" />
<text x="0" y="0" font-size="17.9" text-anchor="middle" font-style="italic" transform="translate(141.05,746.6) scale(1,0.93)">MIR21-3p</text>
<text x="0" y="0" font-size="12.5" text-anchor="middle" transform="translate(11.4,892.45) rotate(-90) scale(1,0.88)">relative level by RT-qPCR</text>
<line x1="35.4" y1="814.5" x2="35.4" y2="976.1" stroke="#000" stroke-width="2.0"/>
<line x1="31.2" y1="815" x2="35.4" y2="815" stroke="#000" stroke-width="1.4"/>
<text x="29.40" y="819.00" font-size="12.0" text-anchor="end">5</text>
<line x1="31.2" y1="847.3" x2="35.4" y2="847.3" stroke="#000" stroke-width="1.4"/>
<text x="29.40" y="851.30" font-size="12.0" text-anchor="end">4</text>
<line x1="31.2" y1="879.7" x2="35.4" y2="879.7" stroke="#000" stroke-width="1.4"/>
<text x="29.40" y="883.70" font-size="12.0" text-anchor="end">3</text>
<line x1="31.2" y1="912.1" x2="35.4" y2="912.1" stroke="#000" stroke-width="1.4"/>
<text x="29.40" y="916.10" font-size="12.0" text-anchor="end">2</text>
<line x1="31.2" y1="944" x2="35.4" y2="944" stroke="#000" stroke-width="1.4"/>
<text x="29.40" y="948.00" font-size="12.0" text-anchor="end">1</text>
<line x1="31.2" y1="976.2" x2="35.4" y2="976.2" stroke="#000" stroke-width="1.4"/>
<text x="29.40" y="980.20" font-size="12.0" text-anchor="end">0</text>
<line x1="34.4" y1="976.1" x2="272.9" y2="976.1" stroke="#000" stroke-width="2.4"/>
<line x1="51.8" y1="976.1" x2="51.8" y2="980.3000000000001" stroke="#000" stroke-width="1.8"/>
<text x="0" y="0" font-size="12.0" text-anchor="end" transform="translate(55.0,988.3000000000001) rotate(-45)">SSA/P(15)</text>
<line x1="86" y1="976.1" x2="86" y2="980.3000000000001" stroke="#000" stroke-width="1.8"/>
<text x="0" y="0" font-size="12.0" text-anchor="end" transform="translate(89.2,988.3000000000001) rotate(-45)">HP(10)</text>
<line x1="120.1" y1="976.1" x2="120.1" y2="980.3000000000001" stroke="#000" stroke-width="1.8"/>
<text x="0" y="0" font-size="12.0" text-anchor="end" transform="translate(123.3,988.3000000000001) rotate(-45)">AP(12)</text>
<line x1="153.8" y1="976.1" x2="153.8" y2="980.3000000000001" stroke="#000" stroke-width="1.8"/>
<text x="0" y="0" font-size="12.0" text-anchor="end" transform="translate(157.0,988.3000000000001) rotate(-45)">unin_SSA/P(15)</text>
<line x1="187.8" y1="976.1" x2="187.8" y2="980.3000000000001" stroke="#000" stroke-width="1.8"/>
<text x="0" y="0" font-size="12.0" text-anchor="end" transform="translate(191.0,988.3000000000001) rotate(-45)">unin_HP(6)</text>
<line x1="221.7" y1="976.1" x2="221.7" y2="980.3000000000001" stroke="#000" stroke-width="1.8"/>
<text x="0" y="0" font-size="12.0" text-anchor="end" transform="translate(224.89999999999998,988.3000000000001) rotate(-45)">unin_AP(10)</text>
<line x1="255.7" y1="976.1" x2="255.7" y2="980.3000000000001" stroke="#000" stroke-width="1.8"/>
<text x="0" y="0" font-size="12.0" text-anchor="end" transform="translate(258.9,988.3000000000001) rotate(-45)">CTRL(16)</text>
<path d="M52.6 813.6999999999999 V806.9 H86.5 V813.6999999999999" fill="none" stroke="#000" stroke-width="1.3"/>
<text x="71.60" y="802.60" font-size="11.0" text-anchor="middle">0.471 (ns)</text>
<path d="M52.6 793.1999999999999 V786.4 H154.4 V793.1999999999999" fill="none" stroke="#000" stroke-width="1.3"/>
<text x="104.20" y="782.60" font-size="11.0" text-anchor="middle">0.300 (ns)</text>
<path d="M52.6 773.0 V766.2 H255.8 V773.0" fill="none" stroke="#000" stroke-width="1.3"/>
<text x="148.60" y="763.50" font-size="11.0" text-anchor="middle">0.228 (ns)</text>
<circle cx="51.95" cy="823.62" r="2.3"/>
<circle cx="51.95" cy="847.38" r="2.3"/>
<circle cx="51.95" cy="862.82" r="2.3"/>
<circle cx="51.95" cy="881.93" r="2.3"/>
<circle cx="51.95" cy="903.36" r="2.3"/>
<circle cx="59.75" cy="906.68" r="2.3"/>
<circle cx="44.31" cy="912.16" r="2.3"/>
<circle cx="51.95" cy="913.82" r="2.3"/>
<circle cx="51.95" cy="928.77" r="2.3"/>
<circle cx="44.31" cy="944.55" r="2.3"/>
<circle cx="59.75" cy="944.22" r="2.3"/>
<circle cx="51.95" cy="947.87" r="2.3"/>
<circle cx="44.31" cy="953.19" r="2.3"/>
<circle cx="59.75" cy="953.69" r="2.3"/>
<circle cx="51.95" cy="957.01" r="2.3"/>
<circle cx="77.2" cy="922.46" r="2.3"/>
<circle cx="83.01" cy="924.62" r="2.3"/>
<circle cx="88.82" cy="924.62" r="2.3"/>
<circle cx="94.64" cy="921.3" r="2.3"/>
<circle cx="83.01" cy="935.42" r="2.3"/>
<circle cx="85.83" cy="936.58" r="2.3"/>
<circle cx="89.16" cy="937.91" r="2.3"/>
<circle cx="77.2" cy="944.55" r="2.3"/>
<circle cx="83.01" cy="946.21" r="2.3"/>
<circle cx="88.82" cy="944.88" r="2.3"/>
<circle cx="94.64" cy="942.39" r="2.3"/>
<circle cx="116.07" cy="875.95" r="2.3"/>
<circle cx="123.71" cy="873.62" r="2.3"/>
<circle cx="116.07" cy="915.48" r="2.3"/>
<circle cx="123.71" cy="916.31" r="2.3"/>
<circle cx="112.08" cy="930.43" r="2.3"/>
<circle cx="119.89" cy="932.59" r="2.3"/>
<circle cx="127.36" cy="930.76" r="2.3"/>
<circle cx="127.36" cy="937.41" r="2.3"/>
<circle cx="112.08" cy="944.22" r="2.3"/>
<circle cx="119.89" cy="944.22" r="2.3"/>
<circle cx="123.71" cy="966.98" r="2.3"/>
<circle cx="116.07" cy="973.12" r="2.3"/>
<circle cx="149.95" cy="878.31" r="2.3"/>
<circle cx="157.76" cy="881.63" r="2.3"/>
<circle cx="153.77" cy="916.51" r="2.3"/>
<circle cx="161.25" cy="929.3" r="2.3"/>
<circle cx="146.3" cy="933.12" r="2.3"/>
<circle cx="153.77" cy="935.12" r="2.3"/>
<circle cx="157.43" cy="935.61" r="2.3"/>
<circle cx="151.61" cy="936.11" r="2.3"/>
<circle cx="145.3" cy="942.76" r="2.3"/>
<circle cx="151.11" cy="944.75" r="2.3"/>
<circle cx="156.59" cy="943.09" r="2.3"/>
<circle cx="162.41" cy="941.76" r="2.3"/>
<circle cx="149.95" cy="953.89" r="2.3"/>
<circle cx="157.76" cy="955.05" r="2.3"/>
<circle cx="153.77" cy="969.17" r="2.3"/>
<circle cx="187.82" cy="887.77" r="2.3"/>
<circle cx="187.82" cy="899.57" r="2.3"/>
<circle cx="184.0" cy="923.16" r="2.3"/>
<circle cx="191.81" cy="924.49" r="2.3"/>
<circle cx="191.81" cy="931.13" r="2.3"/>
<circle cx="184.0" cy="936.78" r="2.3"/>
<circle cx="221.71" cy="890.76" r="2.3"/>
<circle cx="221.71" cy="906.54" r="2.3"/>
<circle cx="217.72" cy="931.13" r="2.3"/>
<circle cx="225.53" cy="936.94" r="2.3"/>
<circle cx="213.9" cy="940.6" r="2.3"/>
<circle cx="221.71" cy="944.42" r="2.3"/>
<circle cx="229.35" cy="943.92" r="2.3"/>
<circle cx="217.72" cy="950.9" r="2.3"/>
<circle cx="225.53" cy="954.22" r="2.3"/>
<circle cx="221.71" cy="965.51" r="2.3"/>
<circle cx="255.71" cy="843.57" r="2.3"/>
<circle cx="255.71" cy="856.0" r="2.3"/>
<circle cx="255.71" cy="889.0" r="2.3"/>
<circle cx="255.71" cy="905.29" r="2.3"/>
<circle cx="255.71" cy="925.0" r="2.3"/>
<circle cx="255.71" cy="938.57" r="2.3"/>
<circle cx="247.86" cy="942.57" r="2.3"/>
<circle cx="250.0" cy="945.43" r="2.3"/>
<circle cx="252.14" cy="947.86" r="2.3"/>
<circle cx="254.29" cy="950.0" r="2.3"/>
<circle cx="256.43" cy="949.29" r="2.3"/>
<circle cx="258.57" cy="946.43" r="2.3"/>
<circle cx="260.71" cy="945.0" r="2.3"/>
<circle cx="263.57" cy="945.43" r="2.3"/>
<circle cx="251.71" cy="957.57" r="2.3"/>
<circle cx="259.71" cy="960.43" r="2.3"/>
<circle cx="255.71" cy="969.71" r="2.3"/>
<path d="M41 912.2H63M52 901.4V923M46.3 901.4H57.7M46.3 923H57.7" />
<path d="M74.8 934.3H96.8M85.8 931.3V937.1M80.1 931.3H91.5M80.1 937.1H91.5" />
<path d="M108.9 928.3H130.9M119.9 919.6V937.1M114.10000000000001 919.6H125.7M114.10000000000001 937.1H125.7" />
<path d="M142.8 933.1H164.8M153.8 926.8V939.4M148.10000000000002 926.8H159.5M148.10000000000002 939.4H159.5" />
<path d="M176.8 917.3H198.8M187.8 909.4V924.5M182.0 909.4H193.60000000000002M182.0 924.5H193.60000000000002" />
<path d="M210.7 936.4H232.7M221.7 929.3V943.1M216.2 929.3H227.2M216.2 943.1H227.2" />
<path d="M244.7 929.3H266.7M255.7 920.3V938.6M249.89999999999998 920.3H261.5M249.89999999999998 938.6H261.5" />
</svg>
</body></html>
